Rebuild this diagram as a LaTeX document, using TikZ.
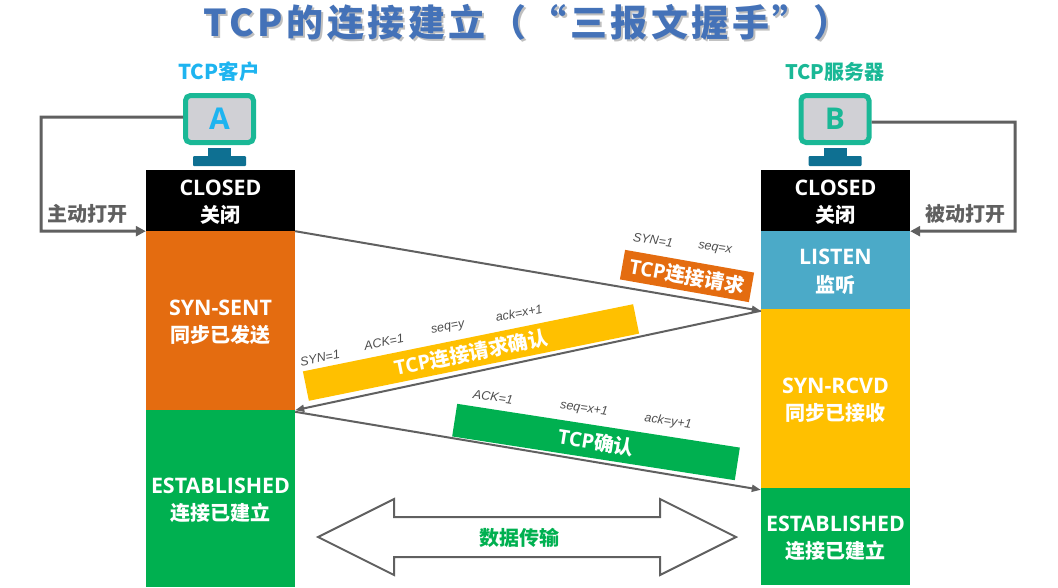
\documentclass[tikz,border=0pt]{standalone}
\usepackage{fontspec}
\setmainfont{Open Sans}
\newfontfamily\cjk{Noto Sans CJK SC}
\newfontfamily\cjktitle[LetterSpace=9.5]{Noto Sans CJK SC}
\newfontfamily\fieldfont{Liberation Sans}
\definecolor{titleblue}{RGB}{68, 114, 184}
\definecolor{clientblue}{RGB}{30, 180, 240}
\definecolor{serverteal}{RGB}{26, 184, 150}
\definecolor{screengrey}{RGB}{208, 208, 213}
\definecolor{standblue}{RGB}{14, 112, 146}
\definecolor{linegrey}{RGB}{96, 96, 96}
\definecolor{stateorange}{RGB}{228, 108, 16}
\definecolor{stategreen}{RGB}{0, 176, 80}
\definecolor{stateblue}{RGB}{75, 170, 200}
\definecolor{stateyellow}{RGB}{255, 192, 0}
\usetikzlibrary{arrows.meta, positioning}
\tikzset{
    statebox/.style={fill=#1, text=white, minimum width=149pt, inner sep=0pt, align=center,
        font=\fontsize{21.4}{27.5}\selectfont\bfseries},
    screen/.style={draw=serverteal, line width=5pt, rounded corners=5pt, fill=screengrey,
        minimum width=68pt, minimum height=47pt, inner sep=0pt,
        font=\fontsize{30}{30}\selectfont\bfseries},
    standpart/.style={fill=standblue, inner sep=0pt},
    msgbar/.style={fill=#1, text=white, inner sep=0pt, font=\fontsize{20}{20}\selectfont\bfseries},
    field/.style={text=linegrey!80!black, inner sep=0pt, font=\fontsize{12.5}{12.5}\fieldfont\itshape},
    openlabel/.style={text=linegrey, inner sep=0pt, font=\fontsize{20}{20}\cjk\bfseries},
    msgline/.style={draw=linegrey, line width=2pt, -{Triangle[length=9pt,width=7pt]}},
    openline/.style={draw=linegrey, line width=3pt, -{Triangle[length=10pt,width=10pt]}},
}
\newcommand{\statetext}[2]{\rule{0pt}{19pt}#1\\{\fontsize{20}{27.5}\cjk #2}}
\begin{document}
\begin{tikzpicture}[x=1pt, y=-1pt]
    \useasboundingbox (0,0) rectangle (1058,587);

    % Title with its soft shadow
    \node[text=black!25, font=\fontsize{37}{37}\cjktitle\bfseries] (titleshadow) at (529,24) {TCP的连接建立（“三报文握手”）};
    \node[text=titleblue, font=\fontsize{37}{37}\cjktitle\bfseries] (title) at (527,22) {TCP的连接建立（“三报文握手”）};

    % Client side
    \node[text=clientblue, font=\fontsize{20.5}{20.5}\cjk\bfseries] (clientname) at (219,72) {TCP客户};
    \node[screen, text=clientblue] (screenA) at (219.5,119) {A};
    \node[standpart, minimum width=23pt, minimum height=8pt] (neckA) at (219.5,152) {};
    \node[standpart, minimum width=53pt, minimum height=10pt, rounded corners=1pt] (baseA) at (219.5,161) {};
    \node[statebox=black, minimum height=61pt] (closedA) at (220.5,200.5) {\statetext{CLOSED}{关闭}};
    \node[statebox=stateorange, minimum height=179pt] (sentA) at (220.5,320.5) {\statetext{SYN-SENT}{同步已发送}};
    \node[statebox=stategreen, minimum height=177pt] (estabA) at (220.5,498.5) {\statetext{ESTABLISHED}{连接已建立}};

    % Server side
    \node[text=serverteal, font=\fontsize{20}{20}\cjk\bfseries] (servername) at (835,72) {TCP服务器};
    \node[screen, text=serverteal] (screenB) at (835,119) {B};
    \node[standpart, minimum width=23pt, minimum height=8pt] (neckB) at (835,152) {};
    \node[standpart, minimum width=53pt, minimum height=10pt, rounded corners=1pt] (baseB) at (835,161) {};
    \node[statebox=black, minimum height=61pt] (closedB) at (835.5,200.5) {\statetext{CLOSED}{关闭}};
    \node[statebox=stateblue, minimum height=78pt] (listenB) at (835.5,270) {\statetext{LISTEN}{监听}};
    \node[statebox=stateyellow, minimum height=179pt] (rcvdB) at (835.5,398.5) {\statetext{SYN-RCVD}{同步已接收}};
    \node[statebox=stategreen, minimum height=97pt] (estabB) at (835.5,536.5) {\statetext{ESTABLISHED}{连接已建立}};

    % Open paths into the state columns
    \draw[openline] ([yshift=2pt]screenA.west) -| (41,231) -- (closedA.south west);
    \draw[openline] ([yshift=-3pt]screenB.east) -| (1015,231) -- (closedB.south east);
    \node[openlabel] (activeopen) at (87,214) {主动打开};
    \node[openlabel] (passiveopen) at (965,214) {被动打开};

    % Message bars
    \node[msgbar=stateorange, minimum width=131pt, minimum height=30pt, rotate=-10] (reqbar) at (687,276) {TCP{\cjk 连接请求}};
    \node[msgbar=stateyellow, minimum width=337pt, minimum height=30pt, rotate=11.5] (ackbar) at (471,352.5) {TCP{\cjk 连接请求确认}};
    \node[msgbar=stategreen, minimum width=286pt, minimum height=33pt, rotate=-8.8] (confbar) at (596,442) {TCP{\cjk 确认}};

    \node[field, rotate=-8] (f1) at (653,240) {SYN=1};
    \node[field, rotate=-8] (f2) at (715,249) {seq=x};
    \node[field, rotate=11] (f3) at (320,358) {SYN=1};
    \node[field, rotate=11] (f4) at (384,342) {ACK=1};
    \node[field, rotate=11] (f5) at (448,328) {seq=y};
    \node[field, rotate=11] (f6) at (519,313) {ack=x+1};
    \node[field, rotate=-8] (f7) at (493,397) {ACK=1};
    \node[field, rotate=-8] (f8) at (584,409) {seq=x+1};
    \node[field, rotate=-8] (f9) at (668,422) {ack=y+1};

    % Three messages
    \draw[msgline] (closedA.south east) -- ([yshift=-2pt]rcvdB.north west);
    \draw[msgline] ([yshift=-2pt]rcvdB.north west) -- (sentA.south east);
    \draw[msgline] ([yshift=-2pt]estabA.north east) -- ([yshift=-2pt]estabB.north west);

    % Data transfer arrow
    \draw[draw=linegrey, line width=2pt] (318,537) -- (394,499) -- (394,517) -- (660,517) -- (660,499)
        -- (736,537) -- (660,575) -- (660,557) -- (394,557) -- (394,575) -- cycle;
    \node[text=stategreen, font=\fontsize{20}{20}\cjk\bfseries] (datalabel) at (519,538) {数据传输};
\end{tikzpicture}
\end{document}
